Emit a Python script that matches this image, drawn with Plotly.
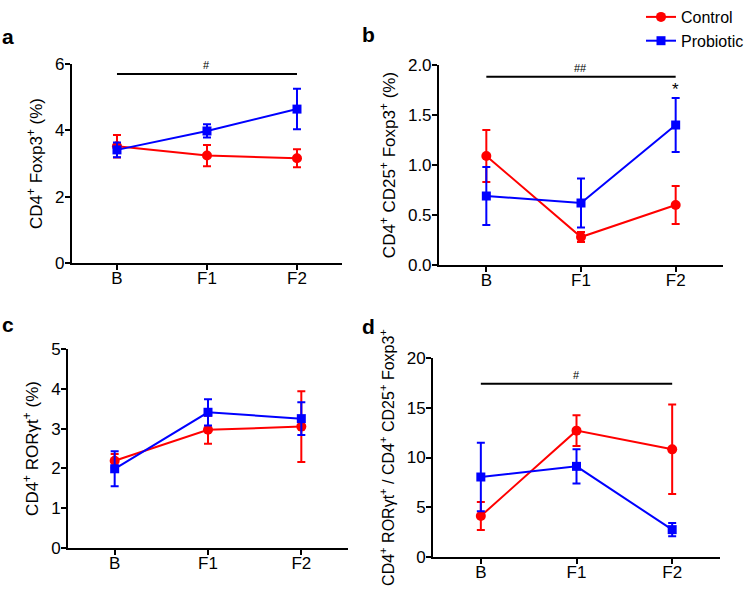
import plotly.graph_objects as go

groups = ["B", "F1", "F2"]

# panel a: CD4+ Foxp3+ (%)
a_ctrl = [3.52, 3.24, 3.16]
a_ctrl_err = [0.34, 0.32, 0.27]
a_prob = [3.41, 3.98, 4.64]
a_prob_err = [0.22, 0.20, 0.61]

# panel b: CD4+ CD25+ Foxp3+ (%)
b_ctrl = [1.09, 0.28, 0.60]
b_ctrl_err = [0.26, 0.05, 0.19]
b_prob = [0.69, 0.62, 1.40]
b_prob_err = [0.29, 0.245, 0.27]

# panel c: CD4+ RORgt+ (%)
c_ctrl = [2.19, 2.97, 3.05]
c_ctrl_err = [0.17, 0.35, 0.89]
c_prob = [1.99, 3.41, 3.25]
c_prob_err = [0.44, 0.33, 0.41]

# panel d: ratio
d_ctrl = [4.12, 12.7, 10.82]
d_ctrl_err = [1.40, 1.55, 4.50]
d_prob = [8.04, 9.11, 2.75]
d_prob_err = [3.45, 1.72, 0.67]

# significance bars (y level, label)
sig_a = (5.7, "#")
sig_b = (1.883, "##")
sig_d = (17.4, "#")
star_b = ("F2", 1.75, "*")

RED = "#ff0000"
BLUE = "#0000ff"
FONT = "Arial, Liberation Sans, sans-serif"

panels = [
    # data, x domain, y domain, y range, dtick, tickformat, title, title size
    (a_ctrl, a_ctrl_err, a_prob, a_prob_err, [0.0961, 0.4566], [0.5565, 0.8921],
     [0, 6], 2, "", "CD4<sup>+</sup> Foxp3<sup>+</sup> (%)", 17),
    (b_ctrl, b_ctrl_err, b_prob, b_prob_err, [0.5861, 0.9653], [0.5531, 0.8904],
     [0, 2], 0.5, ".1f", "CD4<sup>+</sup> CD25<sup>+</sup> Foxp3<sup>+</sup> (%)", 17),
    (c_ctrl, c_ctrl_err, c_prob, c_prob_err, [0.0908, 0.4646], [0.0759, 0.4115],
     [0, 5], 1, "", "CD4<sup>+</sup> RORγt<sup>+</sup> (%)", 17),
    (d_ctrl, d_ctrl_err, d_prob, d_prob_err, [0.5781, 0.9613], [0.0607, 0.3963],
     [0, 20], 5, "",
     "CD4<sup>+</sup> RORγt<sup>+</sup> / CD4<sup>+</sup> CD25<sup>+</sup> Foxp3<sup>+</sup>", 16),
]

fig = go.Figure()

for i, (ctrl, ctrl_err, prob, prob_err, xd, yd, yr, dt, tf, title, tsize) in enumerate(panels):
    n = "" if i == 0 else str(i + 1)
    fig.add_trace(go.Scatter(
        x=groups, y=ctrl, xaxis="x" + n, yaxis="y" + n,
        mode="lines+markers", name="Control", showlegend=(i == 0),
        line=dict(color=RED, width=2),
        marker=dict(symbol="circle", size=10, color=RED),
        error_y=dict(type="data", array=ctrl_err, color=RED, thickness=2, width=4),
    ))
    fig.add_trace(go.Scatter(
        x=groups, y=prob, xaxis="x" + n, yaxis="y" + n,
        mode="lines+markers", name="Probiotic", showlegend=(i == 0),
        line=dict(color=BLUE, width=2),
        marker=dict(symbol="square", size=9, color=BLUE),
        error_y=dict(type="data", array=prob_err, color=BLUE, thickness=2, width=4),
    ))
    axis_common = dict(showline=True, linecolor="black", linewidth=2, ticks="outside",
                       ticklen=5, tickwidth=2, tickcolor="black", showgrid=False,
                       zeroline=False, automargin=False,
                       tickfont=dict(family=FONT, size=17, color="black"))
    fig.update_layout(**{
        "xaxis" + n: dict(domain=xd, anchor="y" + n, type="category",
                          range=[-0.5, 2.5], ticklabelstandoff=-6, **axis_common),
        "yaxis" + n: dict(domain=yd, anchor="x" + n, range=yr, dtick=dt, tickformat=tf,
                          ticklabelstandoff=-3,
                          title=dict(text=title, standoff=8,
                                     font=dict(family=FONT, size=tsize, color="black")),
                          **axis_common),
    })

# significance bars
for n, (ylev, lab) in [("", sig_a), ("2", sig_b), ("4", sig_d)]:
    fig.add_shape(type="line", xref="x" + n, yref="y" + n, x0="B", x1="F2",
                  y0=ylev, y1=ylev, line=dict(color="black", width=2))
    fig.add_annotation(xref="x" + n, yref="y" + n, x="F1", y=ylev, text=lab,
                       showarrow=False, yanchor="bottom", yshift=1,
                       font=dict(family=FONT, size=11, color="black"))

fig.add_annotation(xref="x2", yref="y2", x=star_b[0], y=star_b[1], text=star_b[2],
                   showarrow=False, font=dict(family=FONT, size=17, color="black"))

# panel letters
for lab, px, py in [("a", 8, 36), ("b", 368, 35), ("c", 8, 324), ("d", 368, 326)]:
    fig.add_annotation(xref="paper", yref="paper", x=px / 749, y=1 - py / 593,
                       xanchor="center", yanchor="middle",
                       text="<b>%s</b>" % lab, showarrow=False,
                       font=dict(family=FONT, size=21, color="black"))

fig.update_layout(
    width=749, height=593,
    margin=dict(l=0, r=0, t=0, b=0),
    paper_bgcolor="white", plot_bgcolor="white",
    font=dict(family=FONT, color="black"),
    legend=dict(x=1.0, y=1.0, xanchor="right", yanchor="top",
                font=dict(family=FONT, size=16, color="black"),
                bgcolor="rgba(0,0,0,0)", itemwidth=30, tracegroupgap=0),
)

fig.write_html("out.html", config={"displayModeBar": False},
               post_script="document.body.style.margin='0';")
